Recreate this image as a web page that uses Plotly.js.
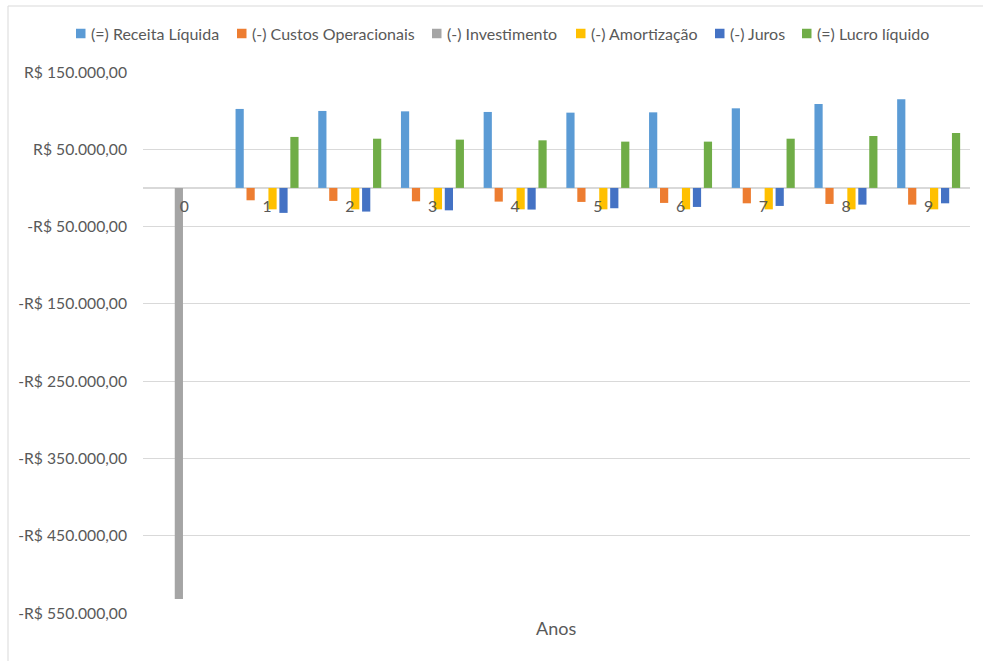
<!DOCTYPE html>
<html>
<head>
<meta charset="utf-8">
<script src="https://cdn.plot.ly/plotly-3.0.1.min.js"></script>
<style>
  html, body { margin: 0; padding: 0; background: #fff; }
  #chart { width: 983px; height: 661px; }
</style>
</head>
<body>
<div id="chart"></div>
<script>
// Fluxo de caixa do projeto por ano
const anos = ['0', '1', '2', '3', '4', '5', '6', '7', '8', '9'];

const receitaLiquida     = [null, 102200, 99600, 99100, 98300, 97400, 97800, 103000, 108600, 114600];
const custosOperacionais = [null, -16000, -16800, -17300, -17700, -18100, -19400, -19900, -20700, -21600];
const investimento       = [-532000, null, null, null, null, null, null, null, null, null];
const amortizacao        = [null, -27700, -27700, -27700, -27700, -27700, -27700, -27700, -27700, -27700];
const juros              = [null, -32300, -30600, -29000, -28000, -26300, -24600, -23300, -21600, -19900];
const lucroLiquido       = [null, 66000, 63700, 62500, 61600, 59900, 59900, 63700, 67200, 71100];

const nomesSeries = [
  '(=) Receita Líquida',
  '(-) Custos Operacionais',
  '(-) Investimento',
  '(-) Amortização',
  '(-) Juros',
  '(=) Lucro líquido'
];
const coresSeries = ['#5B9BD5', '#ED7D31', '#A5A5A5', '#FFC000', '#4472C4', '#70AD47'];

const yTickVals = [150000, 50000, -50000, -150000, -250000, -350000, -450000, -550000];
const yTickText = [
  'R$ 150.000,00', 'R$ 50.000,00', '-R$ 50.000,00', '-R$ 150.000,00',
  '-R$ 250.000,00', '-R$ 350.000,00', '-R$ 450.000,00', '-R$ 550.000,00'
];

const valoresSeries = [receitaLiquida, custosOperacionais, investimento, amortizacao, juros, lucroLiquido];

const FONT = 'Lato, "Open Sans", sans-serif';
const TEXT = '#595959';
const GRID = '#D9D9D9';

const W = 983, H = 661;
const M = { l: 143, r: 13, t: 72, b: 48 };
const pw = W - M.l - M.r, ph = H - M.t - M.b;
const px = v => (v - M.l) / pw;
const py = v => 1 - (v - M.t) / ph;

const traces = valoresSeries.map((vals, i) => ({
  type: 'bar',
  name: nomesSeries[i],
  x: anos,
  y: vals,
  marker: { color: coresSeries[i], line: { width: 0 } },
  hoverinfo: 'x+y+name'
}));

const yMin = -550000, yMax = 150000;

// Legend row along the top: swatch left edge for each entry (px)
const legendLeft = [76, 237, 432, 576, 715, 802];
const legendY = 33.5;
const sw = 9.5;

const legendShapes = legendLeft.map((x0, i) => ({
  type: 'rect', xref: 'paper', yref: 'paper',
  x0: px(x0), x1: px(x0 + sw),
  y0: py(legendY + sw / 2), y1: py(legendY - sw / 2),
  fillcolor: coresSeries[i], line: { width: 0 }
}));

const legendLabels = legendLeft.map((x0, i) => ({
  text: nomesSeries[i],
  xref: 'paper', yref: 'paper',
  x: px(x0 + sw + 3.5), y: py(legendY),
  xanchor: 'left', yanchor: 'middle',
  showarrow: false,
  font: { family: FONT, size: 16, color: TEXT }
}));

const layout = {
  width: W, height: H,
  margin: M,
  paper_bgcolor: '#fff',
  plot_bgcolor: '#fff',
  font: { family: FONT, color: TEXT, size: 15.7 },
  barmode: 'group',
  bargap: 0.205,
  bargroupgap: 0.25,
  showlegend: false,
  xaxis: {
    type: 'category',
    anchor: 'free',
    position: (0 - yMin) / (yMax - yMin),
    showgrid: false,
    showline: false,
    zeroline: false,
    ticks: '',
    ticklabelstandoff: 7,
    tickfont: { family: FONT, size: 15.7, color: TEXT },
    fixedrange: true
  },
  yaxis: {
    range: [yMin, yMax],
    tickvals: yTickVals,
    ticktext: yTickText,
    showgrid: true,
    gridcolor: GRID,
    gridwidth: 1,
    zeroline: true,
    zerolinecolor: GRID,
    zerolinewidth: 1.3,
    showline: false,
    ticks: '',
    ticklabelstandoff: 15,
    tickfont: { family: FONT, size: 15.7, color: TEXT },
    fixedrange: true
  },
  annotations: legendLabels.concat([{
    text: 'Anos',
    xref: 'paper', yref: 'paper',
    x: px(556), y: py(628),
    xanchor: 'center', yanchor: 'middle',
    showarrow: false,
    font: { family: FONT, size: 18, color: TEXT }
  }]),
  shapes: legendShapes.concat([
    { type: 'line', xref: 'paper', yref: 'paper',
      x0: px(8), x1: px(W + 5), y0: py(6), y1: py(6),
      line: { color: GRID, width: 1 } },
    { type: 'line', xref: 'paper', yref: 'paper',
      x0: px(8), x1: px(8), y0: py(6), y1: py(H + 5),
      line: { color: GRID, width: 1 } }
  ])
};

Plotly.newPlot('chart', traces, layout, { displayModeBar: false, staticPlot: true });
</script>
</body>
</html>
